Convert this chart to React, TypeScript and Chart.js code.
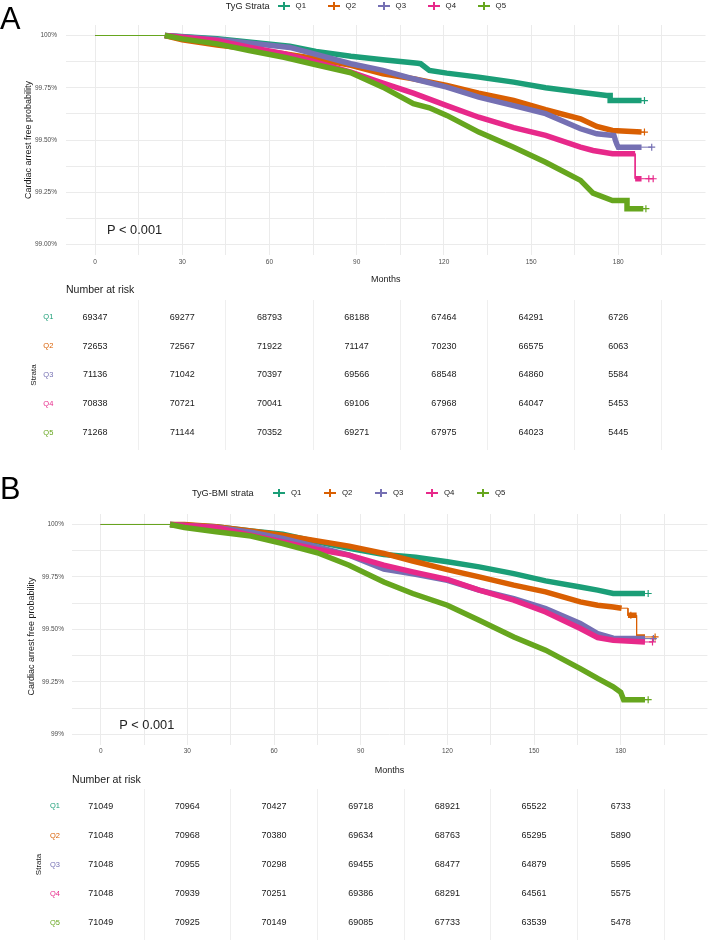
import React, { useEffect, useRef } from "react";
import { Chart, registerables } from "chart.js";

Chart.register(...registerables);

const FONT = "'Liberation Sans', Arial, Helvetica, sans-serif";
const GRID = "#EBEBEB";
const TABLE_GRID = "#EFEFEF";
const TICK_COLOR = "#4D4D4D";
const TITLE_COLOR = "#1A1A1A";

// ---------- shared categories / ticks ----------
const strata = ["Q1", "Q2", "Q3", "Q4", "Q5"];
const strataColors = ["#1B9E77", "#D95F02", "#7570B3", "#E7298A", "#66A61E"];
const riskMonths = [0, 30, 60, 90, 120, 150, 180];
const xTickLabels = ["0", "30", "60", "90", "120", "150", "180"];
const xGridMonths = [0, 15, 30, 45, 60, 75, 90, 105, 120, 135, 150, 165, 180, 195];
const tableGridMonths = [15, 45, 75, 105, 135, 165, 195];
const yGridValues = [99, 99.125, 99.25, 99.375, 99.5, 99.625, 99.75, 99.875, 100];
const yTickValues = [99, 99.25, 99.5, 99.75, 100];
const yTickLabelsA = ["99.00%", "99.25%", "99.50%", "99.75%", "100%"];
const yTickLabelsB = ["99%", "99.25%", "99.50%", "99.75%", "100%"];
const yAxisTitle = "Cardiac arrest free probability";

// ---------- Panel A curves (months, survival %) ----------
const aQ1Months = [0, 24, 42, 67, 76, 88, 99, 111, 112, 115, 121, 132, 144, 155, 167, 176, 177.2, 177.2, 188, 189];
const aQ1Surv = [100, 100, 99.984, 99.949, 99.924, 99.901, 99.884, 99.867, 99.865, 99.833, 99.82, 99.801, 99.777, 99.75, 99.729, 99.713, 99.713, 99.689, 99.689, 99.689];
const aQ1Censor = [189];

const aQ2Months = [0, 24, 30, 42, 53, 65, 76, 88, 99, 109.5, 121, 132, 144, 155, 167, 172.6, 178, 188, 189];
const aQ2Surv = [100, 100, 99.98, 99.955, 99.936, 99.913, 99.889, 99.857, 99.817, 99.793, 99.761, 99.724, 99.689, 99.645, 99.602, 99.565, 99.546, 99.538, 99.538];
const aQ2Censor = [189];

const aQ3Months = [0, 24, 42, 67, 76, 88, 99, 109.5, 121, 132, 144, 155, 167, 172.6, 178.5, 179, 179.5, 180, 188, 191.5];
const aQ3Surv = [100, 100, 99.981, 99.943, 99.91, 99.865, 99.833, 99.793, 99.753, 99.705, 99.665, 99.626, 99.554, 99.53, 99.522, 99.5, 99.48, 99.466, 99.466, 99.466];
const aQ3Censor = [191.5];

const aQ4Months = [0, 24, 42, 53, 65, 76, 88, 98, 109.5, 121, 132, 144, 155, 167, 171.3, 178, 185.8, 185.8, 188, 192];
const aQ4Surv = [100, 100, 99.976, 99.944, 99.913, 99.872, 99.825, 99.777, 99.724, 99.665, 99.609, 99.559, 99.522, 99.466, 99.45, 99.435, 99.435, 99.315, 99.315, 99.315];
const aQ4Censor = [190.5, 192];

const aQ5Months = [0, 24, 30, 42, 53, 65, 76, 88, 99, 109.5, 115, 121, 132, 144, 155, 167, 171.3, 178, 183, 183, 188.6, 189.5];
const aQ5Surv = [100, 100, 99.984, 99.96, 99.928, 99.896, 99.86, 99.822, 99.753, 99.674, 99.654, 99.618, 99.538, 99.466, 99.394, 99.307, 99.246, 99.211, 99.211, 99.172, 99.172, 99.172];
const aQ5Censor = [189.5];

// ---------- Panel B curves ----------
const bQ1Months = [0, 24, 40, 52, 63, 75, 86, 98, 109, 120, 131, 143, 154, 166, 172, 177.4, 188.4, 189.5];
const bQ1Surv = [100, 100, 99.989, 99.969, 99.954, 99.917, 99.886, 99.857, 99.844, 99.822, 99.798, 99.766, 99.731, 99.702, 99.687, 99.671, 99.671, 99.671];
const bQ1Censor = [189.5];

const bQ2Months = [0, 24, 29, 40, 52, 63, 75, 86, 98, 108, 120, 131, 143, 154, 166, 172, 177.4, 180.3, 182.5, 182.5, 185.5, 185.5, 188.4, 191.9];
const bQ2Surv = [100, 100, 100, 99.989, 99.969, 99.949, 99.922, 99.897, 99.862, 99.826, 99.785, 99.75, 99.711, 99.679, 99.631, 99.615, 99.607, 99.601, 99.601, 99.567, 99.567, 99.464, 99.464, 99.464];
const bQ2Censor = [183.5, 191.9];

const bQ3Months = [0, 24, 40, 52, 63, 75, 86, 98, 109, 120, 131, 143, 154, 166, 172, 177.4, 188.4, 191.3];
const bQ3Surv = [100, 100, 99.986, 99.963, 99.933, 99.893, 99.854, 99.787, 99.763, 99.734, 99.687, 99.647, 99.599, 99.528, 99.48, 99.458, 99.456, 99.456];
const bQ3Censor = [191.3];

const bQ4Months = [0, 24, 40, 52, 63, 75, 86, 98, 108, 120, 131, 143, 154, 166, 172, 177.4, 188.4, 191];
const bQ4Surv = [100, 100, 99.986, 99.949, 99.917, 99.881, 99.854, 99.806, 99.774, 99.738, 99.687, 99.639, 99.583, 99.504, 99.461, 99.448, 99.44, 99.44];
const bQ4Censor = [191];

const bQ5Months = [0, 24, 29, 40, 52, 63, 75, 86, 98, 108, 120, 131, 143, 154, 166, 172, 177.4, 180, 181, 188.4, 189.5];
const bQ5Surv = [100, 100, 99.986, 99.965, 99.945, 99.909, 99.865, 99.806, 99.726, 99.671, 99.615, 99.544, 99.464, 99.401, 99.313, 99.266, 99.226, 99.2, 99.165, 99.165, 99.165];
const bQ5Censor = [189.5];

// index ranges of each path drawn with the dense (thick) censor band
const aThick = [[[1, 18]], [[1, 17]], [[1, 18]], [[1, 16], [17, 18]], [[1, 20]]];
const bThick = [[[1, 16]], [[1, 17], [19, 20], [21, 22]], [[1, 16]], [[1, 16]], [[1, 19]]];

// ---------- Number at risk ----------
const riskA_Q1 = [69347, 69277, 68793, 68188, 67464, 64291, 6726];
const riskA_Q2 = [72653, 72567, 71922, 71147, 70230, 66575, 6063];
const riskA_Q3 = [71136, 71042, 70397, 69566, 68548, 64860, 5584];
const riskA_Q4 = [70838, 70721, 70041, 69106, 67968, 64047, 5453];
const riskA_Q5 = [71268, 71144, 70352, 69271, 67975, 64023, 5445];

const riskB_Q1 = [71049, 70964, 70427, 69718, 68921, 65522, 6733];
const riskB_Q2 = [71048, 70968, 70380, 69634, 68763, 65295, 5890];
const riskB_Q3 = [71048, 70955, 70298, 69455, 68477, 64879, 5595];
const riskB_Q4 = [71048, 70939, 70251, 69386, 68291, 64561, 5575];
const riskB_Q5 = [71049, 70925, 70149, 69085, 67733, 63539, 5478];

const pValueText = "P < 0.001";

type Curve = { t: number[]; s: number[]; thick: number[][]; cens: number[] };

const curvesA: Curve[] = [
  { t: aQ1Months, s: aQ1Surv, thick: aThick[0], cens: aQ1Censor },
  { t: aQ2Months, s: aQ2Surv, thick: aThick[1], cens: aQ2Censor },
  { t: aQ3Months, s: aQ3Surv, thick: aThick[2], cens: aQ3Censor },
  { t: aQ4Months, s: aQ4Surv, thick: aThick[3], cens: aQ4Censor },
  { t: aQ5Months, s: aQ5Surv, thick: aThick[4], cens: aQ5Censor },
];
const curvesB: Curve[] = [
  { t: bQ1Months, s: bQ1Surv, thick: bThick[0], cens: bQ1Censor },
  { t: bQ2Months, s: bQ2Surv, thick: bThick[1], cens: bQ2Censor },
  { t: bQ3Months, s: bQ3Surv, thick: bThick[2], cens: bQ3Censor },
  { t: bQ4Months, s: bQ4Surv, thick: bThick[3], cens: bQ4Censor },
  { t: bQ5Months, s: bQ5Surv, thick: bThick[4], cens: bQ5Censor },
];

function survAt(c: Curve, time: number) {
  let v = c.s[0];
  for (let j = 0; j < c.t.length; j++) if (c.t[j] <= time) v = c.s[j];
  return v;
}

const near = (a: number, b: number) => Math.abs(a - b) < 1e-6;

function zeroPadding(s: any) {
  s.paddingTop = 0;
  s.paddingBottom = 0;
  s.paddingLeft = 0;
  s.paddingRight = 0;
}

const pvalPlugin = {
  id: "pvalText",
  afterDatasetsDraw(chart: any, _args: any, opts: any) {
    const { ctx, scales } = chart;
    ctx.save();
    ctx.font = `${opts.size}px ${FONT}`;
    ctx.fillStyle = opts.color;
    ctx.textAlign = "left";
    ctx.textBaseline = "middle";
    ctx.fillText(opts.text, scales.x.getPixelForValue(opts.x), scales.y.getPixelForValue(opts.y));
    ctx.restore();
  },
};

const riskPlugin = {
  id: "riskText",
  afterDatasetsDraw(chart: any, _args: any, opts: any) {
    const { ctx, scales } = chart;
    ctx.save();
    ctx.font = `${opts.size}px ${FONT}`;
    ctx.fillStyle = opts.color;
    ctx.textAlign = "center";
    ctx.textBaseline = "middle";
    (opts.rows as number[][]).forEach((row, i) => {
      row.forEach((v, j) => {
        ctx.fillText(String(v), scales.x.getPixelForValue(riskMonths[j]), scales.y.getPixelForValue(i + 1));
      });
    });
    ctx.restore();
  },
};

type KmLayout = {
  curves: Curve[];
  yLabels: string[];
  padTop: number;
  padRight: number;
  yWidth: number;
  xHeight: number;
  yTickPad: number;
  yTitlePad: number;
  showYTitle: boolean;
  xTickPad: number;
  xTitlePad: number;
  pvalX: number;
  pvalY: number;
};

function kmConfig(p: KmLayout): any {
  const datasets: any[] = [];
  p.curves.forEach((c, i) => {
    const col = strataColors[i];
    const pts = c.t.map((t, j) => ({ x: t, y: c.s[j] }));
    const thick: any[] = [];
    c.thick.forEach(([a, b], k) => {
      if (k > 0) thick.push({ x: c.t[a], y: null });
      for (let j = a; j <= b; j++) thick.push(pts[j]);
    });
    const base = (strata.length - 1 - i) * 3;
    datasets.push({
      data: thick, borderColor: col, backgroundColor: col, borderWidth: 5.5, pointRadius: 0,
      spanGaps: false, borderCapStyle: "butt", borderJoinStyle: "miter", tension: 0, order: base,
    });
    datasets.push({
      data: c.cens.map((ct) => ({ x: ct, y: survAt(c, ct) })), showLine: false, pointStyle: "cross",
      pointRadius: 3.5, pointBorderWidth: 1.2, borderColor: col, pointBorderColor: col, backgroundColor: col, order: base + 1,
    });
    datasets.push({
      data: pts, borderColor: col, backgroundColor: col, borderWidth: 1, pointRadius: 0, tension: 0, order: base + 2,
    });
  });
  return {
    type: "line",
    data: { datasets },
    plugins: [pvalPlugin],
    options: {
      responsive: false,
      maintainAspectRatio: false,
      animation: false,
      events: [],
      layout: { autoPadding: false, padding: { top: p.padTop, right: p.padRight, left: 0, bottom: 0 } },
      plugins: {
        legend: { display: false },
        tooltip: { enabled: false },
        pvalText: { text: pValueText, x: p.pvalX, y: p.pvalY, size: 12.8, color: "#222222" },
      },
      scales: {
        x: {
          type: "linear", min: -10, max: 210,
          afterBuildTicks: (s: any) => { s.ticks = xGridMonths.map((v) => ({ value: v })); },
          afterFit: (s: any) => { s.height = p.xHeight; zeroPadding(s); },
          grid: { color: GRID, lineWidth: 1, drawTicks: false },
          border: { display: false },
          ticks: {
            autoSkip: false, maxRotation: 0, minRotation: 0, padding: p.xTickPad,
            font: { family: FONT, size: 6.5 }, color: TICK_COLOR,
            callback: (v: number) => { const k = riskMonths.findIndex((m) => near(m, v)); return k >= 0 ? xTickLabels[k] : ""; },
          },
          title: { display: true, text: "Months", font: { family: FONT, size: 9 }, color: TITLE_COLOR, padding: { top: 0, bottom: p.xTitlePad } },
        },
        y: {
          type: "linear", min: 98.95, max: 100.05,
          afterBuildTicks: (s: any) => { s.ticks = yGridValues.map((v) => ({ value: v })); },
          afterFit: (s: any) => { s.width = p.yWidth; zeroPadding(s); },
          grid: { color: GRID, lineWidth: 1, drawTicks: false },
          border: { display: false },
          ticks: {
            autoSkip: false, padding: p.yTickPad, font: { family: FONT, size: 6.5 }, color: TICK_COLOR,
            callback: (v: number) => { const k = yTickValues.findIndex((m) => near(m, v)); return k >= 0 ? p.yLabels[k] : ""; },
          },
          title: { display: p.showYTitle, text: yAxisTitle, font: { family: FONT, size: 9 }, color: TITLE_COLOR, padding: { top: p.yTitlePad, bottom: 0 } },
        },
      },
    },
  };
}

type TableLayout = { rows: number[][]; yWidth: number; padRight: number; labelPad: number; titlePad: number };

function tableConfig(p: TableLayout): any {
  return {
    type: "line",
    data: { datasets: [{ data: [], pointRadius: 0 }] },
    plugins: [riskPlugin],
    options: {
      responsive: false,
      maintainAspectRatio: false,
      animation: false,
      events: [],
      layout: { autoPadding: false, padding: { top: 0, right: p.padRight, left: 0, bottom: 0 } },
      plugins: {
        legend: { display: false },
        tooltip: { enabled: false },
        riskText: { rows: p.rows, size: 9, color: "#1A1A1A" },
      },
      scales: {
        x: {
          type: "linear", min: -10, max: 210,
          afterBuildTicks: (s: any) => { s.ticks = tableGridMonths.map((v) => ({ value: v })); },
          afterFit: (s: any) => { s.height = 0; zeroPadding(s); },
          grid: { color: TABLE_GRID, lineWidth: 1, drawTicks: false },
          border: { display: false },
          ticks: { display: false },
        },
        y: {
          type: "linear", min: 0.4, max: 5.6, reverse: true,
          afterBuildTicks: (s: any) => { s.ticks = strata.map((_, i) => ({ value: i + 1 })); },
          afterFit: (s: any) => { s.width = p.yWidth; zeroPadding(s); },
          grid: { display: false, drawTicks: false },
          border: { display: false },
          ticks: {
            autoSkip: false, padding: p.labelPad, font: { family: FONT, size: 7.5 },
            color: (ctx: any) => strataColors[ctx.index] || TICK_COLOR,
            callback: (v: number) => strata[Math.round(v) - 1] || "",
          },
          title: { display: true, text: "Strata", font: { family: FONT, size: 8 }, color: TITLE_COLOR, padding: { top: p.titlePad, bottom: 0 } },
        },
      },
    },
  };
}

function ChartBox({ left, top, width, height, config }: { left: number; top: number; width: number; height: number; config: () => any }) {
  const ref = useRef<HTMLCanvasElement>(null);
  useEffect(() => {
    const chart = new Chart(ref.current as HTMLCanvasElement, config());
    return () => chart.destroy();
  }, []);
  return <canvas ref={ref} width={width} height={height} style={{ position: "absolute", left, top, width, height }} />;
}

function Label({ x, cy, size, text, color = TITLE_COLOR }: { x: number; cy: number; size: number; text: string; color?: string }) {
  return (
    <div style={{ position: "absolute", left: x, top: cy - 0.4885 * size, fontFamily: FONT, fontSize: size, lineHeight: `${size}px`, color, whiteSpace: "nowrap" }}>
      {text}
    </div>
  );
}

function VerticalLabel({ cx, cy, size, text }: { cx: number; cy: number; size: number; text: string }) {
  const off = 0.4885 * size;
  return (
    <div
      style={{
        position: "absolute", left: cx - 100, top: cy - off, width: 200, textAlign: "center",
        fontFamily: FONT, fontSize: size, lineHeight: `${size}px`, color: TITLE_COLOR, whiteSpace: "nowrap",
        transform: "rotate(-90deg)", transformOrigin: `100px ${off}px`,
      }}
    >
      {text}
    </div>
  );
}

function Legend({ title, titleX, keyX, step, cy }: { title: string; titleX: number; keyX: number; step: number; cy: number }) {
  return (
    <>
      <Label x={titleX} cy={cy} size={9.2} text={title} />
      {strata.map((q, i) => (
        <React.Fragment key={q}>
          <div style={{ position: "absolute", left: Math.round(keyX + i * step), top: Math.round(cy) - 1, width: 12, height: 2, background: strataColors[i] }} />
          <div style={{ position: "absolute", left: Math.round(keyX + i * step) + 5, top: Math.round(cy) - 4, width: 2, height: 8, background: strataColors[i] }} />
          <Label x={keyX + i * step + 18} cy={cy} size={7.8} text={q} />
        </React.Fragment>
      ))}
    </>
  );
}

export default function App() {
  return (
    <div style={{ position: "absolute", left: 0, top: 0, width: 708, height: 940, background: "#FFFFFF", overflow: "hidden" }}>
      {/* Panel A */}
      <ChartBox
        left={0} top={0} width={708} height={290}
        config={() => kmConfig({
          curves: curvesA, yLabels: yTickLabelsA, padTop: 25.05, padRight: 2.5, yWidth: 66, xHeight: 34.95,
          yTickPad: 9, yTitlePad: 22.9, showYTitle: true, xTickPad: 3, xTitlePad: 4.6, pvalX: 4.1, pvalY: 99.068,
        })}
      />
      <div style={{ position: "absolute", left: 0, top: 4, fontFamily: FONT, fontSize: 30.7, lineHeight: "30.7px", color: "#000" }}>A</div>
      <Legend title="TyG Strata" titleX={225.7} keyX={277.6} step={50} cy={6} />
      <Label x={66} cy={289} size={10.5} text="Number at risk" />
      <ChartBox
        left={0} top={300} width={708} height={150}
        config={() => tableConfig({
          rows: [riskA_Q1, riskA_Q2, riskA_Q3, riskA_Q4, riskA_Q5], yWidth: 66, padRight: 2.5, labelPad: 12.7, titlePad: 29.2,
        })}
      />

      {/* Panel B */}
      <ChartBox
        left={0} top={490} width={708} height={290}
        config={() => kmConfig({
          curves: curvesB, yLabels: yTickLabelsB, padTop: 24.0, padRight: 0.6, yWidth: 71.8, xHeight: 35.25,
          yTickPad: 7.8, yTitlePad: 25.3, showYTitle: false, xTickPad: 2.6, xTitlePad: 3.6, pvalX: 6.4, pvalY: 99.043,
        })}
      />
      <VerticalLabel cx={30.7} cy={636} size={9} text={yAxisTitle} />
      <div style={{ position: "absolute", left: 0, top: 474, fontFamily: FONT, fontSize: 30.7, lineHeight: "30.7px", color: "#000" }}>B</div>
      <Legend title="TyG-BMI strata" titleX={191.9} keyX={273} step={51} cy={493} />
      <Label x={72} cy={779} size={10.6} text="Number at risk" />
      <ChartBox
        left={0} top={789} width={708} height={151}
        config={() => tableConfig({
          rows: [riskB_Q1, riskB_Q2, riskB_Q3, riskB_Q4, riskB_Q5], yWidth: 71.8, padRight: 0.6, labelPad: 11.8, titlePad: 33.6,
        })}
      />
    </div>
  );
}
